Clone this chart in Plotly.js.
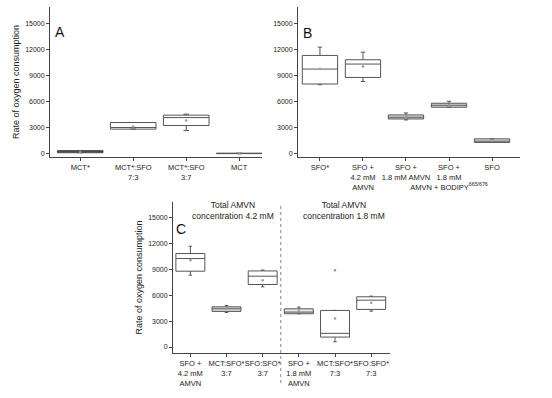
<!DOCTYPE html>
<html>
<head>
<meta charset="utf-8">
<script src="https://cdn.plot.ly/plotly-3.0.1.min.js"></script>
<style>html,body{margin:0;padding:0;background:#fff;}#chart{width:552px;height:398px;}</style>
</head>
<body>
<div id="chart"></div>
<script>
// ---- Panel A ----
const catsA = ["MCT*", "MCT*:SFO<br>7:3", "MCT*:SFO<br>3:7", "MCT"];
const lowA = [80, 2815, 2650, -30];
const q1A = [80, 2815, 3230, -20];
const medA = [180, 3000, 4150, 0];
const q3A = [330, 3580, 4430, 20];
const highA = [330, 3580, 4550, 30];
const meanA = [170, 3130, 3800, 0];

// ---- Panel B ----
const catsB = ["SFO*", "SFO +<br>4.2 mM<br>AMVN", "SFO +<br>1.8 mM AMVN", "SFO +<br>1.8 mM<br>AMVN + BODIPY<sup>665/676</sup>", "SFO"];
const lowB = [7960, 8330, 3880, 5350, 1270];
const q1B = [8040, 8800, 3990, 5350, 1270];
const medB = [9770, 10350, 4190, 5580, 1420];
const q3B = [11350, 10850, 4460, 5810, 1690];
const highB = [12310, 11730, 4690, 6040, 1690];
const meanB = [9800, 10080, 4250, 5600, 1450];

// ---- Panel C ----
const catsC = ["SFO +<br>4.2 mM<br>AMVN", "MCT:SFO*<br>3:7", "SFO:SFO*<br>3:7", "SFO +<br>1.8 mM<br>AMVN", "MCT:SFO*<br>7:3", "SFO:SFO*<br>7:3"];
const lowC = [8310, 4000, 6960, 3850, 610, 4150];
const q1C = [8770, 4120, 7230, 3850, 1150, 4350];
const medC = [10230, 4420, 8190, 4040, 1580, 5420];
const q3C = [10810, 4650, 8800, 4420, 4230, 5810];
const highC = [11650, 4810, 8900, 4620, 4230, 5880];
const meanC = [10030, 4450, 7730, 4200, 3310, 5110];
const outlierCat = [4];
const outlierVal = [8890];

const groupTitles = ["Total AMVN<br>concentration 4.2 mM", "Total AMVN<br>concentration 1.8 mM"];
const panelLetters = ["A", "B", "C"];
const yTitle = "Rate of oxygen consumption";

// fill styles per box (style only)
const fillA = ["#333333", "#ffffff", "#ffffff", "#ffffff"];
const fillB = ["#ffffff", "#ffffff", "#dddddd", "#dddddd", "#dddddd"];
const fillC = ["#ffffff", "#dddddd", "#ffffff", "#e8e8e8", "#ffffff", "#ffffff"];

const FONT = "Liberation Sans, Arial, sans-serif";
const traces = [];
function addPanel(n, low, q1, med, q3, high, mean, fills, xa, ya, w) {
  for (let i = 0; i < n; i++) {
    traces.push({
      type: "box", x: [i], q1: [q1[i]], median: [med[i]], q3: [q3[i]],
      lowerfence: [low[i]], upperfence: [high[i]],
      width: w, whiskerwidth: 0.12, boxpoints: false,
      fillcolor: fills[i], line: {color: "#555555", width: 1},
      xaxis: xa, yaxis: ya, showlegend: false, hoverinfo: "skip"
    });
  }
  traces.push({
    type: "scatter", mode: "markers", x: mean.map((_, i) => i), y: mean,
    marker: {size: 2.5, color: "#9a9a9a"}, xaxis: xa, yaxis: ya,
    showlegend: false, hoverinfo: "skip"
  });
}
addPanel(catsA.length, lowA, q1A, medA, q3A, highA, meanA, fillA, "x", "y", 0.86);
addPanel(catsB.length, lowB, q1B, medB, q3B, highB, meanB, fillB, "x2", "y2", 0.82);
addPanel(catsC.length, lowC, q1C, medC, q3C, highC, meanC, fillC, "x3", "y3", 0.8);
traces.push({
  type: "scatter", mode: "markers", x: outlierCat, y: outlierVal,
  marker: {size: 2.5, color: "#9a9a9a"}, xaxis: "x3", yaxis: "y3",
  showlegend: false, hoverinfo: "skip"
});

const W = 552, H = 398;
const px = (a, b) => [a / W, b / W];
const py = (top, bottom) => [1 - bottom / H, 1 - top / H];

function xAxis(dom, cats, range, anchor) {
  return {
    domain: dom, anchor: anchor, range: range,
    tickmode: "array", tickvals: cats.map((_, i) => i), ticktext: cats,
    tickangle: 0, automargin: false,
    showline: true, linecolor: "#444", linewidth: 1, ticks: "outside",
    ticklen: 3, tickcolor: "#444", showgrid: false, zeroline: false,
    tickfont: {family: FONT, size: 7.5, color: "#222"}
  };
}
function yAxis(dom, range, anchor, title) {
  const a = {
    domain: dom, anchor: anchor, range: range, automargin: false,
    tickmode: "linear", tick0: 0, dtick: 3000, tickformat: "d",
    showline: true, linecolor: "#444", linewidth: 1, ticks: "outside",
    ticklen: 3, tickcolor: "#444", showgrid: false, zeroline: false,
    tickfont: {family: FONT, size: 7, color: "#222"}
  };
  if (title) a.title = {text: title, font: {family: FONT, size: 9, color: "#222"}, standoff: 3};
  return a;
}

function ann(text, x, y, size, color) {
  return {text: text, x: x / W, y: 1 - y / H, xref: "paper", yref: "paper",
    xanchor: "center", yanchor: "middle", showarrow: false,
    font: {family: FONT, size: size, color: color}};
}

const layout = {
  width: W, height: H, margin: {l: 0, r: 0, t: 0, b: 0},
  paper_bgcolor: "#fff", plot_bgcolor: "#fff", showlegend: false,
  xaxis: xAxis(px(50, 262), catsA, [-0.57, 3.43], "y"),
  yaxis: yAxis(py(7, 157), [-415, 16960], "x", yTitle),
  xaxis2: xAxis(px(298, 520), catsB, [-0.51, 4.65], "y2"),
  yaxis2: yAxis(py(7, 157), [-415, 16960], "x2", null),
  xaxis3: xAxis(px(173, 390), catsC, [-0.48, 5.52], "y3"),
  yaxis3: yAxis(py(202, 353), [-690, 16770], "x3", yTitle),
  shapes: [{
    type: "line", xref: "x3", yref: "paper", x0: 2.5, x1: 2.5,
    y0: 1 - 383 / H, y1: 1 - 203 / H,
    line: {color: "#888", width: 1, dash: "dot"}
  }],
  annotations: [
    ann(panelLetters[0], 60, 32, 14, "#111"),
    ann(panelLetters[1], 307, 33, 14, "#111"),
    ann(panelLetters[2], 181, 229, 14, "#111"),
    ann(groupTitles[0], 233, 210.5, 8.5, "#222"),
    ann(groupTitles[1], 344, 210.5, 8.5, "#222")
  ]
};

Plotly.newPlot("chart", traces, layout, {staticPlot: true, displayModeBar: false});
</script>
</body>
</html>
